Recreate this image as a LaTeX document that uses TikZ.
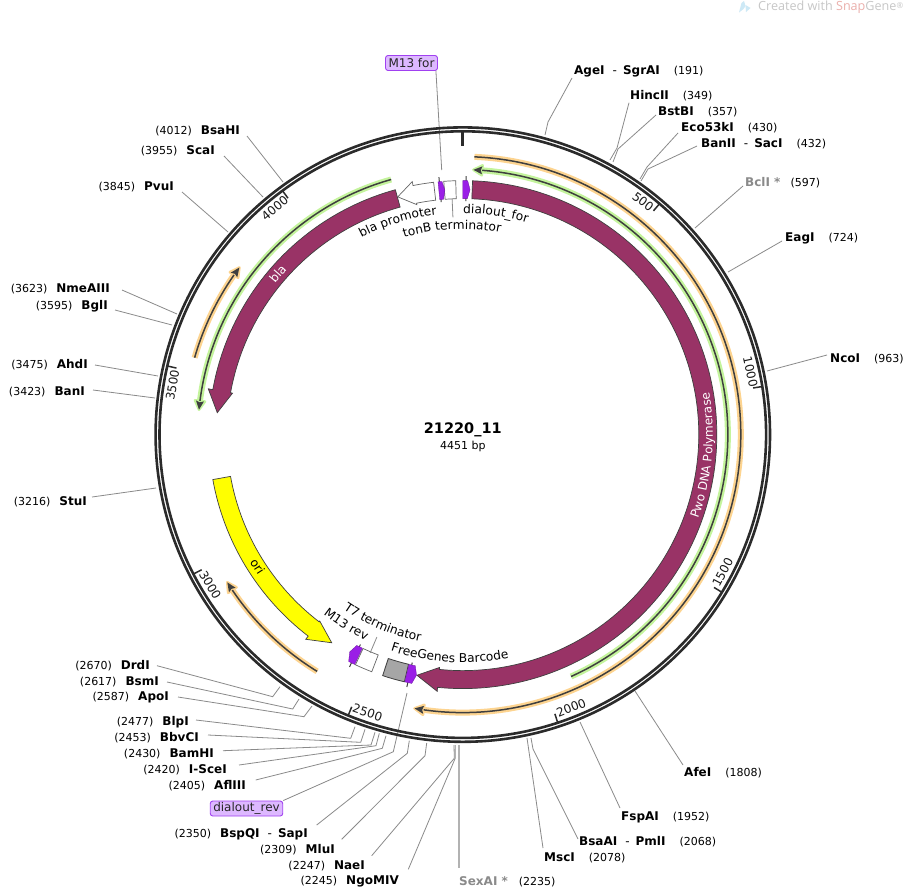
\documentclass[tikz,border=0pt]{standalone}
\usepackage{fontspec}
\setmainfont{DejaVu Sans}
\newfontfamily\wmfont{Open Sans}
\usetikzlibrary{decorations.text}
\definecolor{featmag}{HTML}{993366}
\definecolor{featyel}{HTML}{FFFF00}
\definecolor{primpur}{HTML}{9A1FE6}
\definecolor{boxfill}{HTML}{DDB8FF}
\definecolor{boxline}{HTML}{A040F0}
\definecolor{glowor}{HTML}{FDD490}
\definecolor{glowgr}{HTML}{C4F49C}
\definecolor{darkline}{HTML}{3F3F3F}
\definecolor{ringcol}{HTML}{2B2B2B}
\definecolor{sitegray}{HTML}{8A8A8A}
\definecolor{wmpink}{HTML}{EBB0AC}
\definecolor{wmblue}{HTML}{CDE9F6}
\newcommand\fnum{\fontsize{11}{13}\selectfont}
\newcommand\fsite{\fontsize{12}{13}\selectfont\bfseries}
\newcommand\flab{\fontsize{12.2}{15}\selectfont}
\newcommand\flabw{\fontsize{12}{15}\selectfont\color{white}}
\newcommand\nm[1]{{\fsite #1}}
\newcommand\lsite[4]{\node[sitelab,anchor=east] (#1) at #2 {(#4)\hspace{9pt}\nm{#3}};}
\newcommand\rsite[4]{\node[sitelab,anchor=west] (#1) at #2 {\nm{#3}\hspace{14pt}(#4)};}
\newcommand\cwlab[4]{\path[decorate,decoration={text along path,text align=center,text={|\flab|#4}}]
  ({#2+#3}:#1) arc ({#2+#3}:{#2-#3}:#1);}
\newcommand\ccwlab[4]{\path[decorate,decoration={text along path,text align=center,text={|\flab|#4}}]
  ({#2-#3}:#1) arc ({#2-#3}:{#2+#3}:#1);}
\newcommand\primerarc[5]{%
  \pgfmathsetmacro\hb{#3+#4*1.9}
  \draw[line width=6,#5,line cap=butt] ({#2}:#1) arc ({#2}:{\hb}:#1);
  \fill[#5,draw=#5,line width=2.6,line join=round] (\hb:{#1-5}) -- ({#3}:#1) -- (\hb:{#1+5}) -- cycle;
  \draw[line width=1.5,darkline] ({#2}:#1) arc ({#2}:{\hb}:#1);
  \fill[darkline] (\hb:{#1-4}) -- ({#3}:#1) -- (\hb:{#1+4}) -- ({\hb-#4*0.3}:#1) -- cycle;}
\newcommand\primmark[4]{%
  \draw[primtick] (#4:233.5) -- (#4:258.5);
  \draw[primshape] (#1:236) arc (#1:#2:236) -- (#3:245) -- (#2:254) arc (#2:#1:254) -- cycle;}
\tikzset{
  sitelab/.style={inner sep=0pt,font=\fnum,text=black},
  siteline/.style={draw=sitegray,line width=0.8pt},
  feat/.style={fill=featmag,draw=darkline,line width=0.7pt,line join=miter},
  oriseg/.style={fill=featyel,draw=darkline,line width=0.7pt},
  whitefeat/.style={fill=white,draw=darkline!80,line width=0.7pt},
  grayfeat/.style={fill=black!35!white,draw=darkline,line width=0.8pt},
  primshape/.style={fill=primpur,draw=primpur!70!black,line width=0.3pt},
  primtick/.style={draw=darkline,line width=1pt},
  ring/.style={draw=ringcol,line width=2.6pt},
  majortick/.style={draw=ringcol,line width=1.5pt},
  taglab/.style={fill=boxfill,draw=boxline,rounded corners=2.5pt,line width=0.9pt,inner xsep=3pt,inner ysep=0pt,minimum height=15pt,font=\fontsize{12}{13}\selectfont,text=black!85},
  ticklab/.style={inner sep=0pt,font=\fontsize{12}{14}\selectfont,text=black!90},
}
\begin{document}
\begin{tikzpicture}[x=1pt,y=1pt]
\useasboundingbox (0,0) rectangle (909,-889);
\fill[white] (0,0) rectangle (909,-889);

% watermark
\fill[wmblue] (739,-12.5) -- (741.5,-3) -- (744,-1) -- (745.5,-6) -- (743.5,-9) -- cycle;
\fill[wmblue] (745.5,-5) -- (750.5,-8) -- (746,-12) -- cycle;
\node[inner sep=0pt,anchor=west,font=\wmfont\fontsize{12.6}{14}\selectfont,text=black!22] (wm) at (758,-7)
  {Created with {\color{wmpink}Snap}Gene\raisebox{2pt}{\fontsize{8}{9}\selectfont®}};

% ---------- restriction sites: labels
\begin{scope}[yshift=-0.8pt]
\rsite{AgeI}{(574,-71)}{AgeI\hspace{8pt}{\normalfont -}\hspace{6pt}SgrAI}{191}
\rsite{HincII}{(630,-95)}{HincII}{349}
\rsite{BstBI}{(658,-111)}{BstBI}{357}
\rsite{EcoF}{(681,-127)}{Eco53kI}{430}
\rsite{BanII}{(701,-143)}{BanII\hspace{8pt}{\normalfont -}\hspace{6pt}SacI}{432}
\node[sitelab,anchor=west] (BclI) at (745,-182) {{\fsite\color{sitegray}BclI *}\hspace{10pt}(597)};
\rsite{EagI}{(785,-238)}{EagI}{724}
\rsite{NcoI}{(830,-358)}{NcoI}{963}
\rsite{AfeI}{(684,-772)}{AfeI}{1808}
\rsite{FspAI}{(621,-817)}{FspAI}{1952}
\rsite{BsaAI}{(579,-841)}{BsaAI\hspace{8pt}{\normalfont -}\hspace{6pt}PmlI}{2068}
\rsite{MscI}{(544,-857)}{MscI}{2078}
\node[sitelab,anchor=west] (SexAI) at (459,-881) {{\fsite\color{sitegray}SexAI *}\hspace{11pt}(2235)};

\lsite{BsaHI}{(240,-130)}{BsaHI}{4012}
\lsite{ScaI}{(215,-150)}{ScaI}{3955}
\lsite{PvuI}{(174,-186)}{PvuI}{3845}
\lsite{NmeAIII}{(110,-288)}{NmeAIII}{3623}
\lsite{BglI}{(108,-305)}{BglI}{3595}
\lsite{AhdI}{(88,-364)}{AhdI}{3475}
\lsite{BanI}{(85,-391)}{BanI}{3423}
\lsite{StuI}{(87,-501)}{StuI}{3216}
\lsite{DrdI}{(150,-665)}{DrdI}{2670}
\lsite{BsmI}{(159,-681)}{BsmI}{2617}
\lsite{ApoI}{(169,-697)}{ApoI}{2587}
\lsite{BlpI}{(189,-721)}{BlpI}{2477}
\lsite{BbvCI}{(199,-737)}{BbvCI}{2453}
\lsite{BamHI}{(214,-753)}{BamHI}{2430}
\lsite{ISceI}{(227,-769)}{I-SceI}{2420}
\lsite{AflIII}{(246,-785)}{AflIII}{2405}
\lsite{BspQI}{(308,-833)}{BspQI\hspace{8pt}{\normalfont -}\hspace{6pt}SapI}{2350}
\lsite{MluI}{(335,-849)}{MluI}{2309}
\lsite{NaeI}{(365,-865)}{NaeI}{2247}
\lsite{NgoMIV}{(399,-881)}{NgoMIV}{2245}
\end{scope}

\node[taglab] (M13for) at (411.5,-63) {M13 for};
\node[taglab] (dialrev) at (246.5,-808.5) {dialout\_rev};

% ---------- connectors
\draw[siteline] (AgeI.west) ++(-2,-6.2) -- (548,-122) -- (545,-135);
\draw[siteline] (HincII.west) ++(-1,-6.9) -- (617,-148) -- (610,-160);
\draw[siteline] (BstBI.west) ++(-2,-3.2) -- (618,-149) -- (613,-162);
\draw[siteline] (EcoF.west) ++(-3,-5.2) -- (647,-167) -- (640,-179);
\draw[siteline] (BanII.west) ++(-4,-2.2) -- (648,-169) -- (641,-181);
\draw[siteline] (BclI.west) ++(-2,-3.2) -- (695,-228);
\draw[siteline] (EagI.west) ++(-3,-2.2) -- (728,-272);
\draw[siteline] (NcoI.west) ++(-3,3.8) -- (767,-371);
\draw[siteline] (AfeI.west) ++(-1,7.8) -- (635,-691);
\draw[siteline] (FspAI.west) ++(-1,9.8) -- (580,-722);
\draw[siteline] (BsaAI.west) ++(-1,2.8) -- (533,-749) -- (531,-738);
\draw[siteline] (MscI.west) ++(-1,9.8) -- (527,-738);
\draw[siteline,draw=black!30,line width=1.5pt] (SexAI.north west) ++(0,8.8) -- (459,-745);
\draw[siteline] (BsaHI.east) ++(7,-5.2) -- (283,-182);
\draw[siteline] (ScaI.east) ++(9,-5.2) -- (263,-197);
\draw[siteline] (PvuI.east) ++(8,-5.2) -- (228,-232);
\draw[siteline] (NmeAIII.east) ++(12,-1.2) -- (177,-314);
\draw[siteline] (BglI.east) ++(7,-4.2) -- (172,-325);
\draw[siteline] (AhdI.east) ++(7,-0.2) -- (158,-376);
\draw[siteline] (BanI.east) ++(8,1.8) -- (155,-398);
\draw[siteline] (StuI.east) ++(5,4.8) -- (156,-488);
\draw[siteline] (DrdI.east) ++(7,0.1) -- (272.7,-696.7) -- (280,-686.7);
\draw[siteline] (BsmI.east) ++(8,-0.2) -- (292.7,-709) -- (299,-699);
\draw[siteline] (ApoI.east) ++(9,0.8) -- (304,-716.7) -- (312,-706);
\draw[siteline] (BlpI.east) ++(7,1.8) -- (350.7,-738.3) -- (355,-726.7);
\draw[siteline] (BbvCI.east) ++(9,2.8) -- (360.7,-742.3) -- (365,-729.3);
\draw[siteline] (BamHI.east) ++(9,3.1) -- (371,-745) -- (375,-732.3);
\draw[siteline] (ISceI.east) ++(12,4.8) -- (376,-745.7) -- (379.3,-733.3);
\draw[siteline] (AflIII.east) ++(9.7,5.8) -- (382.3,-748.3) -- (386,-735.7);
\draw[siteline] (dialrev.north east) -- (393.3,-751.7) -- (407,-693);
\draw[siteline] (BspQI.east) ++(8.7,8.8) -- (407.3,-753.3) -- (409.3,-740.7);
\draw[siteline] (MluI.east) ++(6.7,10.5) -- (425,-755.7) -- (426.7,-743);
\draw[siteline] (NaeI.east) ++(6.7,10.1) -- (454.3,-758.3) -- (454,-745);
\draw[siteline] (NgoMIV.east) ++(9.3,12.5) -- (455.3,-758) -- (455.3,-745);
\draw[siteline] (M13for.south east) ++(-2,0) -- (441.7,-170);

% ---------- the map
\begin{scope}[shift={(462.8,-434.6)}]
  \draw[ring] (0,0) circle (307.2);
  \draw[ring] (0,0) circle (303.3);
  \draw[ringcol,line width=2.8pt] (90:289) -- (90:304);
  \foreach \b in {500,1000,1500,2000,2500,3000,3500,4000}{
    \pgfmathsetmacro\a{90-\b/4451*360}
    \draw[majortick] (\a:294) -- (\a:304);
  }
  \foreach \b/\d in {500/2.7,1000/3.2,3500/3.4,4000/3.2}{
    \pgfmathsetmacro\c{90-\b/4451*360+\d}
    \node[ticklab,rotate=\c-90] (t\b) at (\c:294.5) {\b};
  }
  \foreach \b/\d in {1500/3.4,2000/3.4,2500/3.3,3000/3.4}{
    \pgfmathsetmacro\c{90-\b/4451*360+\d}
    \node[ticklab,rotate=\c+90] (t\b) at (\c:294) {\b};
  }
  % primers
  \primerarc{278}{87.6}{-100}{1}{glowor}
  \primerarc{265}{-65.9}{87.7}{-1}{glowgr}
  \primerarc{265}{105.7}{174.6}{-1}{glowgr}
  \primerarc{279}{164}{143.2}{1}{glowor}
  \primerarc{278}{238.4}{212.1}{1}{glowor}
  % features
  \draw[feat] (87.8:254) arc (87.8:-95.7:254) -- (-95.7:258) -- (-100.8:245) -- (-95.7:234) -- (-95.7:236) arc (-95.7:87.8:236) -- cycle;
  \draw[feat] (105.4:254) arc (105.4:169.8:254) -- (169.8:258.6) -- (174.9:246.5) -- (169.8:234) -- (169.8:236) arc (169.8:105.4:236) -- cycle;
  \draw[oriseg] (190.2:254) arc (190.2:232.5:254) -- (232.5:258) -- (237.8:246) -- (232.5:235) -- (232.5:236) arc (232.5:190.2:236) -- cycle;
  \draw[whitefeat] (96.6:254) arc (96.6:101.3:254) -- (101.3:258) -- (105.3:246.5) -- (101.3:234.5) -- (101.3:236) arc (101.3:96.6:236) -- cycle;
  \draw[whitefeat] (94.3:236) arc (94.3:91.6:236) -- (91.6:254) arc (91.6:94.3:254) -- cycle;
  \draw[whitefeat] (245:236) arc (245:249:236) -- (249:254) arc (249:245:254) -- cycle;
  \draw[grayfeat] (251.6:236) arc (251.6:256.7:236) -- (256.7:254) arc (256.7:251.6:254) -- cycle;
  \primmark{95.6}{94.7}{94.2}{95.3}
  \primmark{90}{88.9}{88.3}{89.25}
  \primmark{244.8}{243.3}{242.5}{244}
  \primmark{256.8}{258.4}{259.1}{257.5}
  % feature names
  \cwlab{221.5}{107}{30}{bla promoter}
  \cwlab{205.5}{93}{30}{tonB terminator}
  \cwlab{221.5}{81.5}{30}{dialout{\_}for}
  \ccwlab{211.5}{247}{30}{T7 terminator}
  \ccwlab{227.5}{238.5}{30}{M13 rev}
  \ccwlab{228}{266.6}{30}{FreeGenes Barcode}
  \path[decorate,decoration={text along path,text align=center,text={|\flabw|Pwo DNA Polymerase}}]
    (-35:250) arc (-35:25:250);
  \path[decorate,decoration={text along path,text align=center,text={|\flabw|bla}}]
    (155:241) arc (155:123:241);
  % short leader lines of unnamed labels
  \coordinate (tonBa) at (92.6:236);
  \coordinate (tonBb) at (92.6:217.5);
  \draw[siteline] (tonBa) -- (tonBb);
  \coordinate (tSevena) at (247:237);
  \coordinate (tSevenb) at (247:220);
  \draw[siteline] (tSevena) -- (tSevenb);
  % centre
  \node[inner sep=0pt,font=\fontsize{14.5}{16}\selectfont\bfseries] (pname) at (0,4.5) {21220\_11};
  \node[inner sep=0pt,font=\fontsize{11}{13}\selectfont] (pbp) at (0,-12) {4451 bp};
  \node[inner sep=0pt,font=\fontsize{12}{14}\selectfont,rotate=-57] (orilab) at (212.8:244) {ori};
\end{scope}
\end{tikzpicture}
\end{document}
